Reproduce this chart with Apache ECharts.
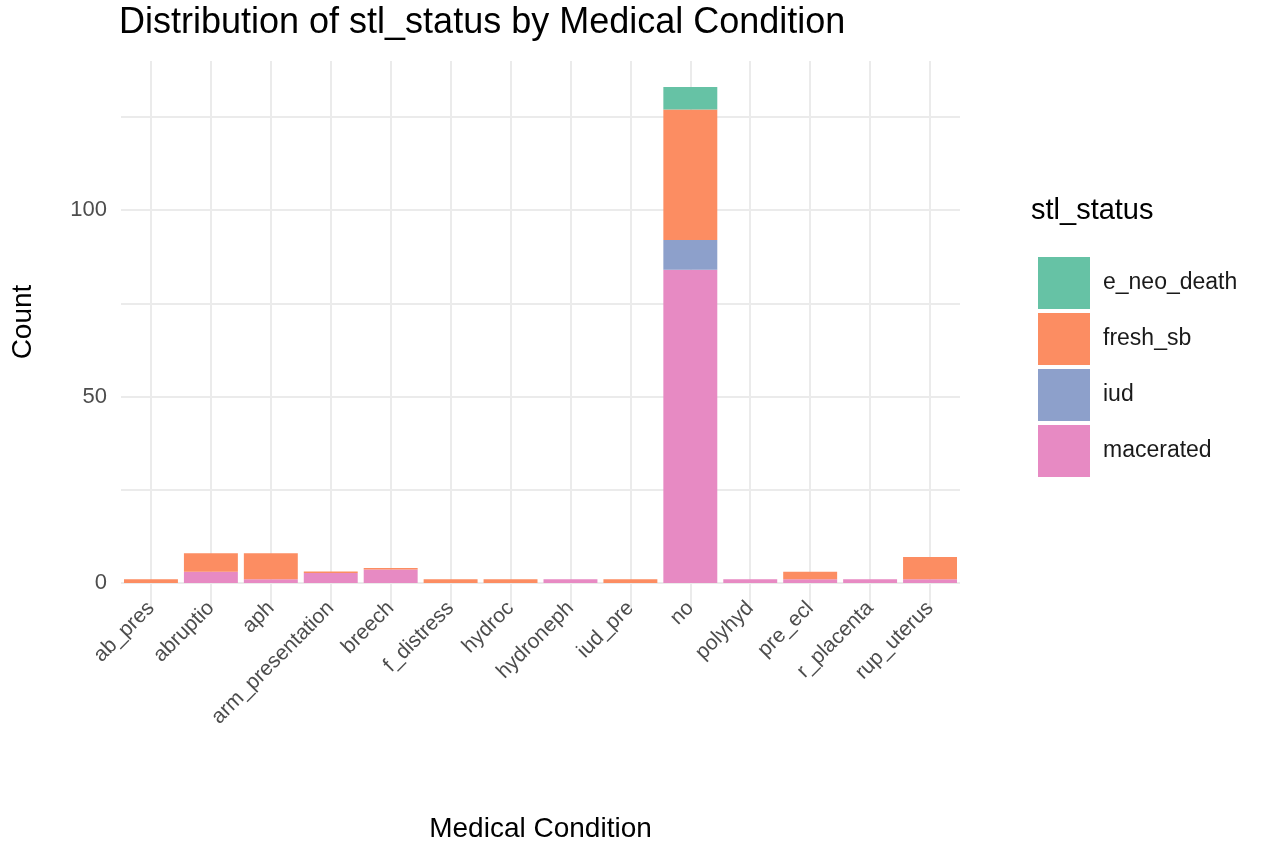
<!DOCTYPE html>
<html><head><meta charset="utf-8">
<script src="https://cdn.jsdelivr.net/npm/echarts@6/dist/echarts.min.js"></script>
<style>html,body{margin:0;background:#fff}#main{width:1280px;height:861px}</style>
</head><body><div id="main"></div>
<script>
var categories = ['ab_pres','abruptio','aph','arm_presentation','breech','f_distress','hydroc','hydroneph','iud_pre','no','polyhyd','pre_ecl','r_placenta','rup_uterus'];
var macerated = [0,3,1,2.7,3.6,0,0,1,0,84,1,1,1,1];
var iud       = [0,0,0,0,0,0,0,0,0,8,0,0,0,0];
var fresh_sb  = [1,5,7,0.4,0.4,1,1,0,1,35,0,2,0,6];
var e_neo_death = [0,0,0,0,0,0,0,0,0,6,0,0,0,0];

var myChart = echarts.init(document.getElementById('main'));
var txt = '#4d4d4d';
function bar(name, data, color) {
    return {name: name, type: 'bar', stack: 'a', data: data, barWidth: '90%',
        itemStyle: {color: color}, xAxisIndex: 0, yAxisIndex: 0, z: 3};
}
var option = {
    animation: false,
    textStyle: {fontFamily: 'Liberation Sans'},
    title: {text: 'Distribution of stl_status by Medical Condition', left: 114, top: 0,
        textStyle: {fontSize: 36, fontWeight: 'normal', color: '#000'}},
    grid: [
        {left: 121, right: 320, top: 61, bottom: 278},
        {left: 151, right: 350, top: 61, bottom: 253}
    ],
    xAxis: [
        {type: 'category', gridIndex: 0, data: categories, axisLine: {show: false}, axisTick: {show: false},
            axisLabel: {rotate: 45, fontSize: 21, color: txt, margin: 22, interval: 0},
            name: 'Medical Condition', nameLocation: 'middle', nameGap: 232,
            nameTextStyle: {fontSize: 28, color: '#000'}},
        {type: 'category', gridIndex: 1, data: categories, boundaryGap: false, axisLine: {show: false},
            axisTick: {show: false}, axisLabel: {show: false, interval: 0},
            splitLine: {show: true, interval: 0, lineStyle: {color: '#ebebeb', width: 2}}}
    ],
    yAxis: [
        {type: 'value', gridIndex: 0, min: 0, max: 140, interval: 25, axisLine: {show: false},
            axisLabel: {fontSize: 22, color: txt, margin: 14, showMaxLabel: false,
                formatter: function (v) { return v % 50 === 0 ? v : ''; }},
            splitLine: {showMaxLine: false, lineStyle: {color: '#ebebeb', width: 2}},
            name: 'Count', nameLocation: 'middle', nameGap: 84, nameRotate: 90,
            nameTextStyle: {fontSize: 28, color: '#000'}},
        {type: 'value', gridIndex: 1, show: false, splitLine: {show: false}}
    ],
    legend: {orient: 'vertical', left: 1033, top: 252, itemWidth: 52, itemHeight: 52, itemGap: 4,
        icon: 'rect', data: ['e_neo_death','fresh_sb','iud','macerated'],
        textStyle: {fontSize: 23, color: '#1a1a1a', padding: [0, 0, 0, 8]}},
    graphic: [{type: 'text', left: 1031, top: 196, style: {text: 'stl_status', fontSize: 29, fill: '#000', fontFamily: 'Liberation Sans'}}],
    series: [
        bar('macerated', macerated, '#e78ac3'),
        bar('iud', iud, '#8da0cb'),
        bar('fresh_sb', fresh_sb, '#fc8d62'),
        bar('e_neo_death', e_neo_death, '#66c2a5'),
        {type: 'line', xAxisIndex: 1, yAxisIndex: 1, data: [], silent: true}
    ]
};
myChart.setOption(option);
</script>
</body></html>
